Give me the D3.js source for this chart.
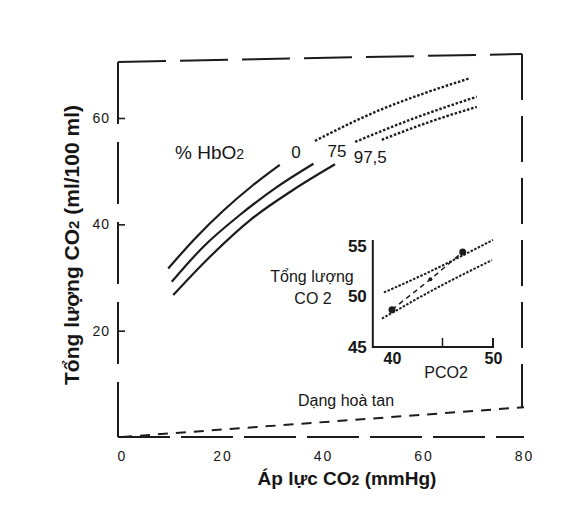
<!DOCTYPE html>
<html lang="vi">
<head>
<meta charset="UTF-8">
<title>Tổng lượng CO2</title>
<style>
  body { margin: 0; background: #fff; }
  svg text { font-family: "Liberation Sans Narrow", "Liberation Sans", Arial, sans-serif; fill: #161616; }
  .tick text { font-family: "Liberation Sans", Arial, sans-serif; }
</style>
</head>
<body>
<svg id="chart" width="578" height="514"></svg>
<script src="https://d3js.org/d3.v7.min.js"></script>
<script>
// main axes
const xTicks = [0, 20, 40, 60, 80];
const yTicks = [20, 40, 60];

// % HbO2 curves: [PCO2, total CO2], solid part then dotted part
const hbLabels = ["0", "75", "97,5"];
const solid0 = [[9.2, 31.7], [14.5, 37.3], [20.2, 42.6], [26.1, 47.4], [31.4, 51.2]];
const dotted0 = [[38.4, 55.7], [51.3, 61.5], [60.0, 64.6], [69.3, 67.5]];
const solid75 = [[9.9, 29.2], [16.2, 35.8], [23.5, 41.8], [30.8, 47.0], [38.1, 51.4]];
const dotted75 = [[46.4, 55.5], [58.0, 59.9], [70.6, 64.0]];
const solid975 = [[10.2, 26.7], [17.5, 33.9], [25.5, 40.8], [34.1, 46.5], [42.4, 51.3]];
const dotted975 = [[51.7, 55.9], [61.3, 59.3], [70.6, 62.1]];

// dissolved CO2
const dissolved = [[0, 0], [80, 5.6]];

// inset (PCO2 40-50, total CO2 45-55)
const insetXTicks = [40, 50];
const insetYTicks = [45, 50, 55];
const insetUpper = [[39.2, 50.4], [43.4, 52.3], [50.0, 55.6]];
const insetLower = [[39.0, 47.8], [45.1, 51.2], [49.9, 53.6]];
const insetPoints = [[40.0, 48.7], [43.8, 51.7], [47.0, 54.4]];

const svg = d3.select("#chart");
const ink = "#1c1c1c";

const x = d3.scaleLinear().domain([0, 80]).range([122, 524]);
const y = d3.scaleLinear().domain([0, 60]).range([437, 118]);

const frame = { left: 118, top: 62, topRight: 54, right: 522, bottom: 437 };

// frame (scanned look: long dashes)
const g = svg.append("g").attr("stroke", ink).attr("fill", "none").attr("stroke-width", 2);
g.append("line").attr("x1", frame.left).attr("y1", frame.top).attr("x2", frame.right).attr("y2", frame.topRight)
  .attr("stroke-dasharray", "48,14");
g.append("line").attr("x1", frame.left).attr("y1", frame.top).attr("x2", frame.left).attr("y2", frame.bottom)
  .attr("stroke-dasharray", "62,18");
g.append("line").attr("x1", frame.right).attr("y1", frame.topRight).attr("x2", frame.right).attr("y2", y(5.6))
  .attr("stroke-dasharray", "46,16");
g.append("line").attr("x1", frame.left).attr("y1", frame.bottom).attr("x2", x(80)).attr("y2", frame.bottom)
  .attr("stroke-dasharray", "52,11");

// axes
const yAxis = svg.append("g").attr("transform", `translate(${frame.left},0)`)
  .call(d3.axisLeft(y).tickValues(yTicks).tickSizeInner(-7).tickSizeOuter(0).tickPadding(8));
yAxis.select(".domain").remove();
yAxis.selectAll(".tick line").attr("stroke", ink).attr("stroke-width", 1.6);
yAxis.selectAll(".tick text").attr("font-size", 14).attr("fill", "#2a2a2a").attr("letter-spacing", 1);

const xAxis = svg.append("g").attr("transform", `translate(0,${frame.bottom})`)
  .call(d3.axisBottom(x).tickValues(xTicks).tickSize(0).tickPadding(14));
xAxis.select(".domain").remove();
xAxis.selectAll(".tick text").attr("font-size", 14).attr("fill", "#2a2a2a").attr("letter-spacing", 2);

// curves
const line = d3.line().x(d => x(d[0])).y(d => y(d[1])).curve(d3.curveMonotoneX);
const solids = [solid0, solid75, solid975];
const dotteds = [dotted0, dotted75, dotted975];
svg.append("g").selectAll("path").data(solids).join("path")
  .attr("d", line).attr("fill", "none").attr("stroke", ink).attr("stroke-width", 2.2);
svg.append("g").selectAll("path").data(dotteds).join("path")
  .attr("d", line).attr("fill", "none").attr("stroke", ink).attr("stroke-width", 2.4)
  .attr("stroke-dasharray", "2.5,1.8");

svg.append("path").datum(dissolved).attr("d", line).attr("fill", "none")
  .attr("stroke", ink).attr("stroke-width", 2).attr("stroke-dasharray", "10,8");

// labels
const hbText = svg.append("text").attr("x", 175).attr("y", 159).attr("font-size", 19);
hbText.append("tspan").text("% HbO");
hbText.append("tspan").attr("font-size", 14).text("2");
const labelPos = [[34.6, 52.5], [42.8, 52.7], [49.4, 51.5]];
svg.append("g").selectAll("text").data(hbLabels).join("text")
  .attr("x", (d, i) => x(labelPos[i][0])).attr("y", (d, i) => y(labelPos[i][1]))
  .attr("text-anchor", "middle").attr("font-size", 17).text(d => d);

svg.append("text").attr("x", 346).attr("y", 406).attr("text-anchor", "middle")
  .attr("font-size", 16).text("Dạng hoà tan");

const yTitle = svg.append("text").attr("transform", "translate(79,245) rotate(-90)")
  .attr("text-anchor", "middle").attr("font-size", 21).attr("font-weight", "bold");
yTitle.append("tspan").text("Tổng lượng CO");
yTitle.append("tspan").attr("font-size", 15).text("2");
yTitle.append("tspan").text(" (ml/100 ml)");

const xTitle = svg.append("text").attr("x", 347).attr("y", 485).attr("text-anchor", "middle")
  .attr("font-size", 19).attr("font-weight", "bold");
xTitle.append("tspan").text("Áp lực CO");
xTitle.append("tspan").attr("font-size", 14).text("2");
xTitle.append("tspan").text(" (mmHg)");

// inset
const xi = d3.scaleLinear().domain([40, 50]).range([392, 493]);
const yi = d3.scaleLinear().domain([45, 55]).range([347, 246]);
const inset = svg.append("g");
inset.append("path").attr("d", `M${xi(38.1)},${yi(55.6)}V${yi(45)}H${xi(50)}V${yi(45.9)}`)
  .attr("fill", "none").attr("stroke", ink).attr("stroke-width", 2);
inset.append("line").attr("x1", xi(45)).attr("x2", xi(45)).attr("y1", yi(45)).attr("y2", yi(45.9))
  .attr("stroke", ink).attr("stroke-width", 1.5);

const iy = inset.append("g").attr("transform", `translate(${xi(38.1)},0)`)
  .call(d3.axisLeft(yi).tickValues(insetYTicks).tickSize(0).tickPadding(6));
iy.select(".domain").remove();
iy.selectAll(".tick text").attr("font-size", 17).attr("font-weight", "bold")
  .style("font-family", "'Liberation Sans Narrow', Arial, sans-serif");

const ix = inset.append("g").attr("transform", `translate(0,${yi(45)})`)
  .call(d3.axisBottom(xi).tickValues(insetXTicks).tickSize(0).tickPadding(6));
ix.select(".domain").remove();
ix.selectAll(".tick text").attr("font-size", 16).attr("font-weight", "bold")
  .style("font-family", "'Liberation Sans Narrow', Arial, sans-serif");

const iline = d3.line().x(d => xi(d[0])).y(d => yi(d[1])).curve(d3.curveMonotoneX);
inset.append("g").selectAll("path").data([insetUpper, insetLower]).join("path")
  .attr("d", iline).attr("fill", "none").attr("stroke", ink).attr("stroke-width", 2)
  .attr("stroke-dasharray", "2.5,1.5");
inset.append("path").datum(insetPoints).attr("d", d3.line().x(d => xi(d[0])).y(d => yi(d[1])))
  .attr("fill", "none").attr("stroke", ink).attr("stroke-width", 1.5).attr("stroke-dasharray", "5,4");
inset.append("g").selectAll("circle").data(insetPoints).join("circle")
  .attr("cx", d => xi(d[0])).attr("cy", d => yi(d[1])).attr("r", (d, i) => i === 1 ? 2 : 3.5)
  .attr("fill", ink);

inset.append("text").attr("x", 312).attr("y", 282).attr("text-anchor", "middle").attr("font-size", 16)
  .text("Tổng lượng");
inset.append("text").attr("x", 313).attr("y", 304).attr("text-anchor", "middle").attr("font-size", 16)
  .text("CO 2");
inset.append("text").attr("x", 446).attr("y", 378).attr("text-anchor", "middle").attr("font-size", 16)
  .text("PCO2");
</script>
</body>
</html>
